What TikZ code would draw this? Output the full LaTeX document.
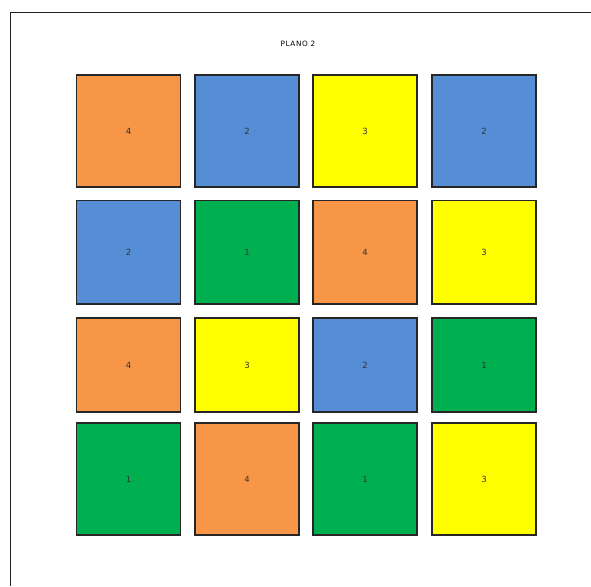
\documentclass[tikz,border=0pt]{standalone}
\usepackage{fontspec}
\setmainfont{DejaVu Sans}
\definecolor{corange}{HTML}{F79646}
\definecolor{cblue}{HTML}{558ED5}
\definecolor{cyellow}{HTML}{FFFF00}
\definecolor{cgreen}{HTML}{00B050}
\definecolor{frame}{HTML}{202020}
\begin{document}
\begin{tikzpicture}[x=1pt,y=-1pt,
  tile/.style={draw=black!85,line width=1.2pt,minimum width=104pt,minimum height=#1,inner sep=0pt,font=\fontsize{8.5}{10}\selectfont,text=black!80},
  tile/.default=112pt]
\useasboundingbox (0,0) rectangle (591,586);
\draw[frame,line width=1pt] (10.5,586) -- (10.5,13) -- (591,13);
\node[font=\fontsize{7.3}{9}\selectfont\addfontfeature{LetterSpace=8}] (title) at (298,44) {PLANO 2};
% column centres
\def\ca{128.5}\def\cb{247}\def\cc{365}\def\cd{484}
% row 1 (75-187)
\node[tile=112pt,fill=corange] (t11) at (\ca,131) {4};
\node[tile=112pt,fill=cblue]   (t12) at (\cb,131) {2};
\node[tile=112pt,fill=cyellow] (t13) at (\cc,131) {3};
\node[tile=112pt,fill=cblue]   (t14) at (\cd,131) {2};
% row 2 (200.5-304)
\node[tile=103.5pt,fill=cblue]   (t21) at (\ca,252.3) {2};
\node[tile=103.5pt,fill=cgreen]  (t22) at (\cb,252.3) {1};
\node[tile=103.5pt,fill=corange] (t23) at (\cc,252.3) {4};
\node[tile=103.5pt,fill=cyellow] (t24) at (\cd,252.3) {3};
% row 3 (318-412)
\node[tile=94pt,fill=corange] (t31) at (\ca,365) {4};
\node[tile=94pt,fill=cyellow] (t32) at (\cb,365) {3};
\node[tile=94pt,fill=cblue]   (t33) at (\cc,365) {2};
\node[tile=94pt,fill=cgreen]  (t34) at (\cd,365) {1};
% row 4 (423-535)
\node[tile=112pt,fill=cgreen]  (t41) at (\ca,479) {1};
\node[tile=112pt,fill=corange] (t42) at (\cb,479) {4};
\node[tile=112pt,fill=cgreen]  (t43) at (\cc,479) {1};
\node[tile=112pt,fill=cyellow] (t44) at (\cd,479) {3};
\end{tikzpicture}
\end{document}
